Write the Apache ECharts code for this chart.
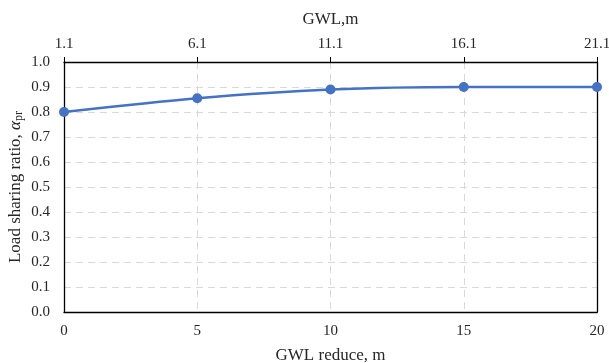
<!DOCTYPE html>
<html><head><meta charset="utf-8">
<script src="https://cdn.jsdelivr.net/npm/echarts@6/dist/echarts.min.js"></script>
<style>html,body{margin:0;padding:0;background:#fff}#c{width:609px;height:363px}</style>
</head><body><div id="c"></div>
<script>
const gwlReduce = [0, 5, 10, 15, 20];
const ratio = [0.80, 0.855, 0.89, 0.90, 0.90];
const topLabels = ['1.1', '6.1', '11.1', '16.1', '21.1'];

const font = '"Liberation Serif","Times New Roman",serif';
const txt = '#262626';
const chart = echarts.init(document.getElementById('c'));
chart.setOption({
  animation: false,
  grid: {left: 64, right: 12, top: 62, bottom: 51, containLabel: false, outerBoundsMode: 'none'},
  xAxis: [{
    type: 'value', position: 'bottom', min: 0, max: 20, interval: 5,
    name: 'GWL reduce, m', nameLocation: 'middle', nameGap: 35, nameMoveOverlap: false,
    nameTextStyle: {fontFamily: font, fontSize: 17, color: txt},
    axisLine: {show: true, onZero: false, lineStyle: {color: '#000', width: 1.3}},
    axisTick: {show: false},
    axisLabel: {fontFamily: font, fontSize: 15, color: txt, margin: 12},
    splitLine: {show: true, lineStyle: {color: '#d9d9d9', type: [7, 5], width: 1}}
  }, {
    type: 'category', position: 'top', boundaryGap: false, data: topLabels,
    name: 'GWL,m', nameLocation: 'middle', nameGap: 34, nameMoveOverlap: false,
    nameTextStyle: {fontFamily: font, fontSize: 17, color: txt},
    axisLine: {show: true, onZero: false, lineStyle: {color: '#000', width: 1.3}},
    axisTick: {show: true, inside: false, length: 5, lineStyle: {color: '#000'}},
    axisLabel: {fontFamily: font, fontSize: 15, color: txt, margin: 10},
    splitLine: {show: false}
  }],
  yAxis: [{
    type: 'value', min: 0, max: 1, interval: 0.1,
    name: '{n|Load sharing ratio, }{a|α}{s|pr}', nameLocation: 'middle', nameGap: 39, nameMoveOverlap: false,
    nameTextStyle: {fontFamily: font, fontSize: 17, color: txt,
      rich: {n: {fontFamily: font, fontSize: 17, color: txt},
             a: {fontFamily: font, fontSize: 17, fontStyle: 'italic', color: txt},
             s: {fontFamily: font, fontSize: 12, color: txt, verticalAlign: 'bottom', padding: [7, 0, 0, 0]}}},
    axisLine: {show: true, onZero: false, lineStyle: {color: '#000', width: 1.3}},
    axisTick: {show: false},
    axisLabel: {fontFamily: font, fontSize: 15, color: txt, margin: 14, formatter: v => v.toFixed(1)},
    splitLine: {show: true, lineStyle: {color: '#d9d9d9', type: [7, 5], width: 1}}
  }, {
    type: 'value', min: 0, max: 1, position: 'right',
    axisLine: {show: true, onZero: false, lineStyle: {color: '#000', width: 1.3}},
    axisTick: {show: false}, axisLabel: {show: false}, splitLine: {show: false}
  }],
  series: [{
    type: 'line', xAxisIndex: 0, yAxisIndex: 0,
    data: gwlReduce.map((x, i) => [x, ratio[i]]),
    smooth: 0.3, symbol: 'circle', symbolSize: 10,
    lineStyle: {color: '#4472C4', width: 2.5},
    itemStyle: {color: '#4472C4'}
  }]
});
</script></body></html>
